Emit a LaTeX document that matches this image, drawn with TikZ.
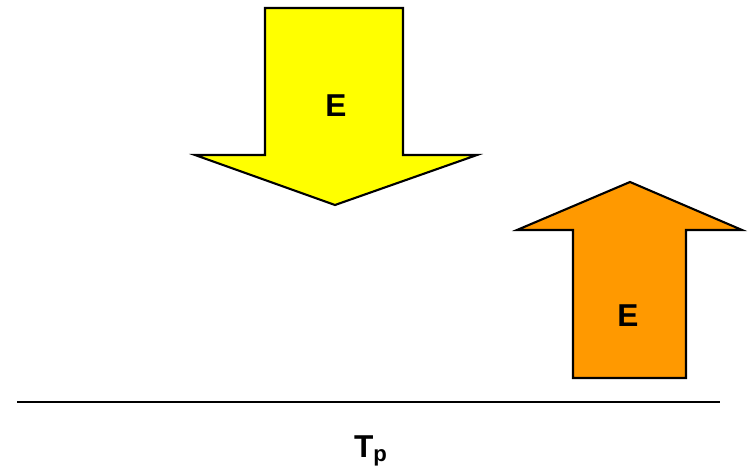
\documentclass[tikz,border=0pt]{standalone}
\usepackage{fontspec}
\setmainfont{Liberation Sans}
\definecolor{arrowyellow}{RGB}{255,255,0}
\definecolor{arroworange}{RGB}{255,153,0}
\tikzset{
  bigarrow/.style={draw=black, line width=1.2pt, line join=miter},
  elabel/.style={font=\fontsize{18}{20}\selectfont\bfseries, inner sep=0pt}
}
\begin{document}
\begin{tikzpicture}[x=0.02cm, y=-0.02cm]
\useasboundingbox (0,0) rectangle (749,469);
% incoming energy
\draw[bigarrow, fill=arrowyellow] (265,8) -- (403,8) -- (403,155) -- (477,155) -- (335,205) -- (195,155) -- (265,155) -- cycle;
\node[elabel] (ein) at (336,106) {E};
% outgoing energy
\draw[bigarrow, fill=arroworange] (573,378) -- (686,378) -- (686,230) -- (742,230) -- (630,182) -- (517,230) -- (573,230) -- cycle;
\node[elabel] (eout) at (628,316) {E};
% ground line
\coordinate (gl) at (17,402);
\coordinate (gr) at (720,402);
\draw[line width=1.2pt] (gl) -- (gr);
\node[elabel] (tp) at (371,451) {T\textsubscript{p}};
\end{tikzpicture}
\end{document}
